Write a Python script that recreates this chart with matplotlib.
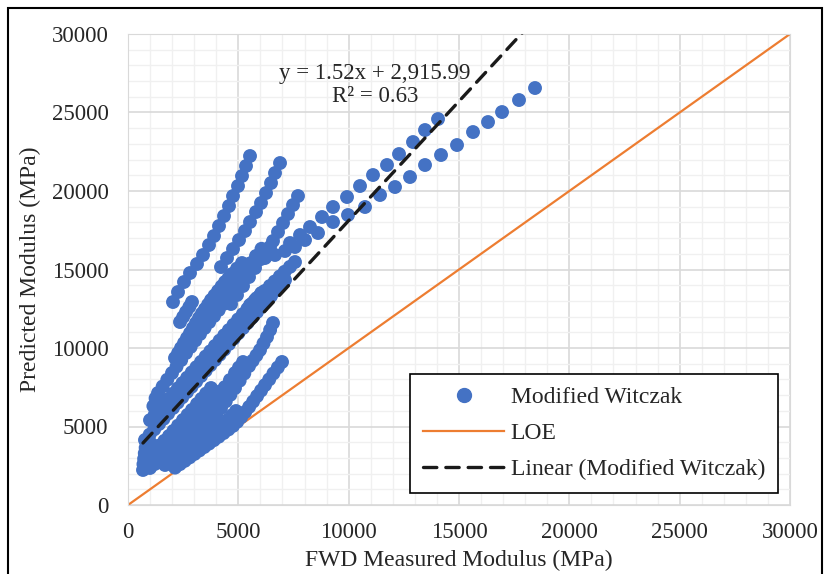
import numpy as np
import matplotlib
matplotlib.use("Agg")
import matplotlib.pyplot as plt
from matplotlib.ticker import MultipleLocator
from matplotlib.lines import Line2D
from matplotlib.patches import Rectangle

plt.rcParams['font.family'] = ['Liberation Serif', 'DejaVu Serif']

# strands of the Modified Witczak predictions (FWD measured, predicted) in MPa
a_x = [2039, 2266, 2538, 2810, 3127, 3399, 3671, 3898, 4124, 4351, 4577, 4759, 4985, 5166, 5348, 5529]
a_y = [12929, 13566, 14203, 14776, 15350, 15923, 16559, 17133, 17770, 18406, 19043, 19680, 20317, 20954, 21591, 22228]

b_x = [4215, 4487, 4759, 5031, 5302, 5529, 5801, 6028, 6254, 6481, 6662, 6889]
b_y = [15158, 15731, 16305, 16878, 17451, 18024, 18661, 19234, 19871, 20508, 21145, 21782]

c_x = [4668, 4940, 5212, 5484, 5756, 6028, 6299, 6571, 6798, 7025, 7251, 7478, 7704]
c_y = [12802, 13375, 13948, 14521, 15095, 15668, 16241, 16814, 17387, 17961, 18534, 19107, 19680]

d_x = [7342, 7795, 8248, 8792, 9291, 9925, 10514, 11103, 11738, 12282, 12916, 13460, 14049]
d_y = [16687, 17196, 17706, 18343, 18980, 19617, 20317, 21018, 21655, 22355, 23119, 23884, 24584]

e_x = [5756, 6209, 6662, 7115, 7568, 8022, 8611, 9291, 9970, 10741, 11421, 12100, 12780, 13460,
       14185, 14910, 15635, 16315, 16950, 17720, 18445]
e_y = [15604, 15732, 15923, 16178, 16432, 16878, 17324, 18024, 18470, 18980, 19744, 20253, 20890, 21655,
       22292, 22928, 23756, 24393, 25030, 25794, 26559]

f_x = [2130, 2350, 2570, 2790, 3010, 3230, 3450, 3670, 3890, 4110, 4330, 4550, 4760, 4950, 5130, 5310,
       5490, 5670, 5850, 6030, 6210, 6400, 6590, 6790, 6980]
f_y = [2380, 2600, 2810, 3030, 3250, 3470, 3690, 3910, 4130, 4350, 4580, 4810, 5040, 5300, 5600, 5920,
       6250, 6590, 6940, 7290, 7640, 8000, 8380, 8760, 9110]

g_x = [1677, 1890, 2100, 2311, 2520, 2730, 2946, 3160, 3370, 3580, 3790, 4000, 4215, 4430, 4640, 4849,
       5060, 5270, 5484, 5650, 5820, 5982, 6140, 6299, 6440, 6571]
g_y = [2548, 2780, 3010, 3248, 3520, 3800, 4076, 4390, 4710, 5031, 5410, 5790, 6178, 6600, 7020, 7452,
       7920, 8380, 8853, 9190, 9530, 9872, 10290, 10700, 11150, 11592]

h_x = [997, 1210, 1420, 1632, 1840, 2050, 2266, 2480, 2690, 2900, 3110, 3320, 3535, 3750, 3960, 4169,
       4390, 4620, 4849, 5030, 5212]
h_y = [2357, 2610, 2870, 3121, 3410, 3710, 4012, 4330, 4650, 4968, 5310, 5650, 5987, 6350, 6710, 7070,
       7510, 7960, 8407, 8760, 9108]

m_x = [2357, 2570, 2780, 3000, 3220, 3444, 3660, 3880, 4100, 4320, 4540, 4720, 4895]
m_y = [2739, 2960, 3180, 3420, 3680, 4012, 4270, 4560, 4860, 5150, 5450, 5720, 5987]

p_x = [1360, 1570, 1780, 1994, 2200, 2410, 2629, 2840, 3050, 3263, 3470, 3690, 3898, 4060, 4215]
p_y = [2739, 3040, 3330, 3630, 3930, 4250, 4586, 4920, 5260, 5605, 5950, 6330, 6687, 6970, 7261]

n_x = [1224, 1430, 1650, 1858, 2060, 2270, 2493, 2700, 2900, 3127, 3330, 3540, 3762]
n_y = [3503, 3790, 4090, 4395, 4720, 5060, 5414, 5740, 6060, 6433, 6760, 7100, 7452]

k1_x = [770, 980, 1190, 1405, 1610, 1820, 2039, 2250, 2460, 2674, 2880, 3090, 3308, 3520, 3730, 3943,
        4150, 4360, 4577, 4790, 5000, 5212, 5420, 5630, 5846, 6060, 6270, 6481, 6690, 6900, 7115]
k1_y = [4140, 4480, 4820, 5159, 5490, 5830, 6178, 6520, 6860, 7197, 7530, 7870, 8216, 8560, 8900, 9235,
        9570, 9900, 10254, 10600, 10940, 11273, 11610, 11950, 12292, 12640, 12980, 13311, 13650, 13990, 14330]

k2_x = [997, 1210, 1420, 1630, 1840, 2050, 2260, 2470, 2680, 2890, 3100, 3310, 3520, 3730, 3940, 4150,
        4360, 4570, 4780, 4990, 5200, 5410, 5620, 5830, 6040]
k2_y = [5405, 5750, 6080, 6420, 6760, 7100, 7430, 7770, 8110, 8450, 8780, 9120, 9460, 9790, 10130, 10470,
        10810, 11140, 11480, 11820, 12150, 12490, 12830, 13170, 13500]

k3_x = [1360, 1570, 1780, 1994, 2200, 2410, 2629, 2840, 3050, 3263, 3470, 3680, 3898, 4110, 4320, 4532,
        4740, 4950, 5166, 5380, 5590, 5801, 6010, 6220, 6435]
k3_y = [7133, 7550, 7980, 8407, 8820, 9230, 9681, 10070, 10480, 10891, 11270, 11650, 12037, 12420, 12800, 13184,
        13560, 13940, 14330, 14720, 15100, 15477, 15790, 16100, 16432]

k3b_x = [2800, 3050, 3300, 3550, 3800, 4050, 4300, 4550, 4800, 5050, 5300, 5550, 5800, 6050]
k3b_y = [10370, 10830, 11280, 11740, 12200, 12660, 13110, 13570, 14030, 14490, 14940, 15400, 15860, 16320]

k4_x = [2130, 2270, 2402, 2540, 2674, 2810, 2946, 3080, 3218, 3350, 3490, 3630, 3762, 3920, 4079, 4240,
        4396, 4560, 4713, 4940, 5166]
k4_y = [9363, 9680, 9999, 10320, 10636, 10950, 11273, 11590, 11910, 12200, 12483, 12770, 13056, 13340, 13630, 13920,
        14203, 14460, 14712, 15060, 15413]

k5_x = [2357, 2500, 2629, 2780, 2900]
k5_y = [11655, 11980, 12292, 12620, 12929]

q_x = [5529, 5750, 5980, 6200, 6430, 6650, 6880, 7100, 7340, 7568]
q_y = [12738, 13040, 13340, 13640, 13950, 14240, 14560, 14860, 15170, 15477]

l0_x = [680, 700, 730, 760, 800, 850, 900, 1100, 1050, 1150, 1250]
l0_y = [2230, 2600, 2950, 3300, 3650, 4000, 2900, 3300, 3900, 6300, 6800]

# linear trendline shown on the chart
slope = 1.52
intercept = 2915.99

strands_x = [a_x, b_x, c_x, d_x, e_x, f_x, g_x, h_x, m_x, p_x, n_x, k1_x, k2_x, k3_x, k3b_x, k4_x, k5_x, q_x, l0_x]
strands_y = [a_y, b_y, c_y, d_y, e_y, f_y, g_y, h_y, m_y, p_y, n_y, k1_y, k2_y, k3_y, k3b_y, k4_y, k5_y, q_y, l0_y]
x = np.concatenate([np.array(s, dtype=float) for s in strands_x])
y = np.concatenate([np.array(s, dtype=float) for s in strands_y])

blue = '#4472C4'
orange = '#ED7D31'
dark = '#1a1a1a'

fig = plt.figure(figsize=(8.25, 5.74), dpi=100)
ax = fig.add_axes([128 / 825, 69 / 574, 662 / 825, 471 / 574])

ax.plot([0, 30000], [0, 30000], color=orange, lw=1.6, zorder=2)
ax.scatter(x, y, s=100, color=blue, edgecolors='none', zorder=3)
tx = np.array([x.min(), x.max()])
ax.plot(tx, slope * tx + intercept, color=dark, lw=2.4, dashes=(4, 2.7),
        dash_capstyle='round', zorder=4)

ax.set_xlim(0, 30000)
ax.set_ylim(0, 30000)
ax.xaxis.set_major_locator(MultipleLocator(5000))
ax.yaxis.set_major_locator(MultipleLocator(5000))
ax.xaxis.set_minor_locator(MultipleLocator(1000))
ax.yaxis.set_minor_locator(MultipleLocator(1000))
ax.grid(which='major', color='#d9d9d9', lw=1.2, zorder=0)
ax.grid(which='minor', color='#f0f0f0', lw=1.0, zorder=0)
ax.set_axisbelow(True)
ax.tick_params(which='both', length=0, labelsize=16.5, colors='#262626')
ax.tick_params(axis='y', pad=14)
ax.tick_params(axis='x', pad=12)
for sp in ax.spines.values():
    sp.set_color('#d9d9d9')

ax.set_xlabel('FWD Measured Modulus (MPa)', fontsize=17, color='#262626', labelpad=5)
ax.set_ylabel('Predicted Modulus (MPa)', fontsize=17, color='#262626', labelpad=8)

ax.text(11200, 26750, 'y = 1.52x + 2,915.99\nR² = 0.63', ha='center', va='center',
        fontsize=16.5, color='#262626', linespacing=1.1, zorder=5)

handles = [
    Line2D([], [], ls='none', marker='o', markersize=10, color=blue),
    Line2D([], [], color=orange, lw=1.6),
    Line2D([], [], color=dark, lw=2.4, dashes=(4, 2.7), dash_capstyle='round'),
]
labels = ['Modified Witczak', 'LOE', 'Linear (Modified Witczak)']
leg = ax.legend(handles, labels, loc='lower right', bbox_to_anchor=(0.982, 0.026),
                fontsize=17, frameon=True, fancybox=False, handlelength=3.4,
                handletextpad=0.3, labelspacing=0.6, borderpad=0.55, borderaxespad=0)
leg.get_frame().set_edgecolor('black')
leg.get_frame().set_linewidth(1.2)
leg.get_frame().set_facecolor('white')
leg.get_frame().set_alpha(1)
for t in leg.get_texts():
    t.set_color('#262626')

fig.patches.append(Rectangle((8 / 825, -0.02), 814 / 825, (574 - 8) / 574 + 0.02,
                             transform=fig.transFigure, fill=False, edgecolor='black', lw=1.5))

fig.savefig('out.png', dpi=100)
